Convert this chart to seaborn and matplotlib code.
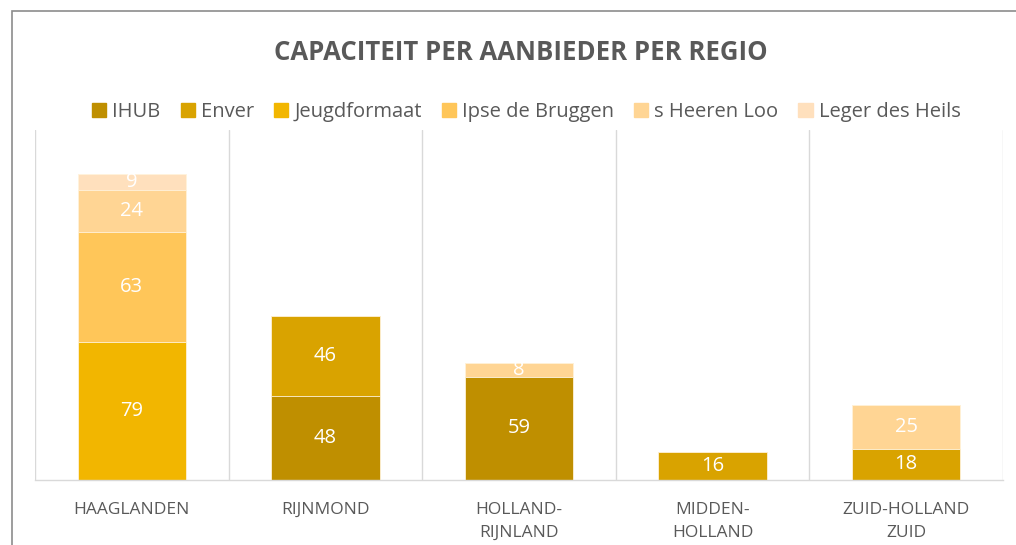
import numpy as np
import pandas as pd
import matplotlib
matplotlib.use("Agg")
import matplotlib.pyplot as plt
import matplotlib.patches as mpatches
import seaborn as sns

regions = ["HAAGLANDEN", "RIJNMOND", "HOLLAND-\nRIJNLAND", "MIDDEN-\nHOLLAND", "ZUID-HOLLAND\nZUID"]
providers = ["IHUB", "Enver", "Jeugdformaat", "Ipse de Bruggen", "s Heeren Loo", "Leger des Heils"]
ihub = [0, 48, 59, 0, 0]
enver = [0, 46, 0, 16, 18]
jeugdformaat = [79, 0, 0, 0, 0]
ipse = [63, 0, 0, 0, 0]
heeren_loo = [24, 0, 8, 0, 25]
leger = [9, 0, 0, 0, 0]
series = [ihub, enver, jeugdformaat, ipse, heeren_loo, leger]
colors = ["#BF8F00", "#D9A300", "#F2B600", "#FFC659", "#FFD594", "#FFE0BD"]

sns.set_style("white")
plt.rcParams['font.family'] = ['Open Sans', 'DejaVu Sans']

fig = plt.figure(figsize=(10.16, 5.45), dpi=100)
ax = fig.add_axes([35/1016, 1-480/545, (1003-35)/1016, 350/545])

vals = np.array(series, dtype=float)
cum = vals.cumsum(axis=0)
# draw cumulative totals from the top layer down so each layer shows its segment
for i in range(len(providers) - 1, -1, -1):
    df = pd.DataFrame({"regio": regions, "waarde": cum[i]})
    sns.barplot(data=df, x="regio", y="waarde", color=colors[i], width=0.56,
                saturation=1, ax=ax, errorbar=None, zorder=2,
                edgecolor="#FFF3DC", linewidth=0.6)

for i in range(len(providers)):
    for j in range(len(regions)):
        v = vals[i, j]
        if v > 0:
            ax.text(j, cum[i, j] - v/2, f"{int(v)}", ha="center", va="center",
                    color="white", fontsize=14.5, zorder=5)

ax.set_xlim(-0.5, len(regions) - 0.5)
ax.set_ylim(0, 200)
ax.set_yticks([])
ax.set_xlabel(None)
ax.set_ylabel(None)
ax.set_xticks(np.arange(len(regions)))
ax.set_xticklabels(regions, fontsize=12.5, color="#595959", linespacing=1.55)
ax.tick_params(axis="x", length=0, pad=16)
ax.set_xticks(np.arange(-0.5, len(regions)), minor=True)
ax.tick_params(axis="x", which="minor", length=0)
ax.grid(which="minor", axis="x", color="#D9D9D9", linewidth=1, zorder=0)
for s in ["top", "right", "left"]:
    ax.spines[s].set_visible(False)
ax.spines["bottom"].set_color("#D9D9D9")
ax.spines["bottom"].set_linewidth(1)

handles = [mpatches.Patch(color=c, label=p) for c, p in zip(colors, providers)]
fig.legend(handles=handles, loc="center", bbox_to_anchor=(0.518, 1-112/545), ncol=6,
           frameon=False, fontsize=14.5, handlelength=0.7, handleheight=0.7,
           handletextpad=0.3, columnspacing=1.0, labelcolor="#595959")

fig.text(0.513, 1-52/545, "CAPACITEIT PER AANBIEDER PER REGIO", ha="center", va="center",
         fontsize=18.5, fontweight="bold", color="#595959")

border = mpatches.Rectangle((12/1016, -0.1), 1.2, 1-11/545 + 0.1, transform=fig.transFigure,
                            fill=False, edgecolor="#8C8C8C", linewidth=1.2)
fig.patches.append(border)

fig.savefig("out.png", dpi=100)
